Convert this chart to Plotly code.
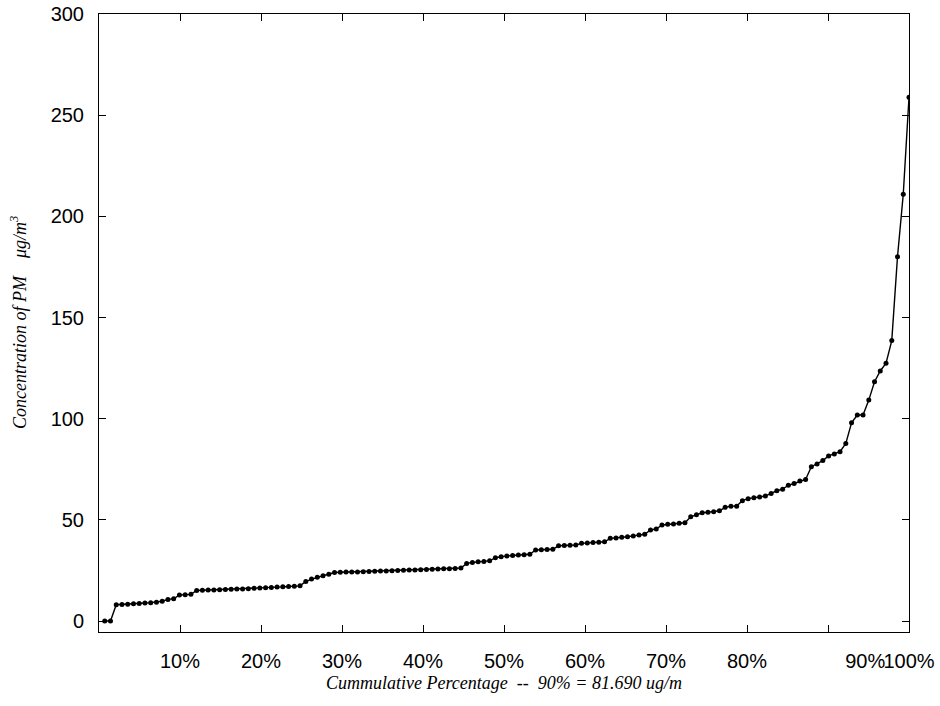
import plotly.graph_objects as go

concentration = [
    0.0, 0.0, 8.1, 8.2, 8.3, 8.5, 8.7, 8.9, 9.1, 9.3,
    9.8, 10.7, 11.0, 12.9, 13.0, 13.2, 15.1, 15.2, 15.3, 15.4,
    15.5, 15.6, 15.7, 15.8, 15.9, 16.0, 16.2, 16.3, 16.5, 16.6,
    16.8, 16.9, 17.1, 17.2, 17.4, 19.6, 20.8, 21.6, 22.4, 23.2,
    24.0, 24.1, 24.2, 24.3, 24.3, 24.4, 24.5, 24.6, 24.7, 24.8,
    24.9, 25.0, 25.1, 25.2, 25.3, 25.4, 25.5, 25.6, 25.7, 25.8,
    25.9, 26.0, 26.2, 28.5, 29.0, 29.3, 29.5, 29.8, 31.3, 31.8,
    32.2, 32.4, 32.6, 32.8, 33.0, 35.1, 35.3, 35.4, 35.5, 37.2,
    37.3, 37.5, 37.6, 38.4, 38.6, 38.8, 39.0, 39.2, 40.9, 41.1,
    41.4, 41.7, 42.1, 42.5, 42.9, 45.0, 45.5, 47.5, 47.8, 48.0,
    48.3, 48.6, 51.5, 52.6, 53.5, 53.8, 54.0, 54.5, 56.2, 56.8,
    56.8, 59.5, 60.5, 61.0, 61.3, 61.8, 63.1, 64.4, 65.2, 67.1,
    68.0, 69.2, 70.0, 76.3, 77.6, 79.3, 81.6, 82.6, 83.7, 87.8,
    98.0, 101.8, 101.8, 109.2, 118.3, 123.6, 127.4, 138.6, 180.1, 210.9,
    258.9,
]
n_obs = len(concentration)
cumulative_pct = [100.0 * (i + 1) / n_obs for i in range(n_obs)]

x_tick_marks = [10, 20, 30, 40, 50, 60, 70, 80, 90, 100]
x_label_positions = [10, 20, 30, 40, 50, 60, 70, 80, 94.6, 100]
x_label_text = ["10%", "20%", "30%", "40%", "50%", "60%", "70%", "80%", "90%", "100%"]
y_ticks = [0, 50, 100, 150, 200, 250, 300]

fig = go.Figure()
fig.add_trace(go.Scatter(
    x=cumulative_pct, y=concentration, mode="lines+markers",
    line=dict(color="black", width=1.4),
    marker=dict(color="black", size=5),
    showlegend=False, hoverinfo="x+y",
))
# invisible helper trace for the label-only axis
fig.add_trace(go.Scatter(x=[0, 100], y=[0, 0], xaxis="x2", mode="markers",
                         marker=dict(opacity=0), showlegend=False, hoverinfo="skip"))

tick_font = dict(family="Liberation Sans, Arial, sans-serif", size=20, color="black")

fig.update_layout(
    width=940, height=706,
    margin=dict(l=99, r=31, t=14, b=74, autoexpand=False),
    paper_bgcolor="white", plot_bgcolor="white",
    xaxis=dict(
        range=[0, 100], tickmode="array", tickvals=x_tick_marks, showticklabels=False,
        ticks="inside", ticklen=7, tickcolor="black", tickwidth=1,
        showline=True, linecolor="black", linewidth=1, mirror="ticks",
        showgrid=False, zeroline=False, automargin=False,
    ),
    xaxis2=dict(
        range=[0, 100], overlaying="x", anchor="y", side="bottom",
        tickmode="array", tickvals=x_label_positions, ticktext=x_label_text,
        ticks="", showline=False, showgrid=False, zeroline=False,
        tickfont=tick_font, ticklabelstandoff=15, tickangle=0, automargin=False,
        ticklabeloverflow="allow",
    ),
    yaxis=dict(
        range=[-5.4, 300], tickmode="array", tickvals=y_ticks,
        ticks="inside", ticklen=7, tickcolor="black", tickwidth=1,
        showline=True, linecolor="black", linewidth=1, mirror="ticks",
        showgrid=False, zeroline=False, tickfont=tick_font, ticklabelstandoff=10,
        automargin=False, ticklabeloverflow="allow",
    ),
    annotations=[
        dict(text="Cummulative Percentage  --  90% = 81.690 ug/m",
             xref="paper", yref="paper", x=0.5, y=-0.0825, xanchor="center", yanchor="middle",
             showarrow=False,
             font=dict(family="Liberation Serif, Times New Roman, serif", size=18, color="black", style="italic")),
        dict(text="Concentration of PM    μg/m<sup>3</sup>",
             xref="paper", yref="paper", x=-0.1, y=0.5, xanchor="center", yanchor="middle",
             textangle=-90, showarrow=False,
             font=dict(family="Liberation Serif, Times New Roman, serif", size=18, color="black", style="italic")),
    ],
)

fig.write_html("out.html", config={"displayModeBar": False},
               post_script="document.body.style.margin='0';document.body.style.overflow='hidden';")
